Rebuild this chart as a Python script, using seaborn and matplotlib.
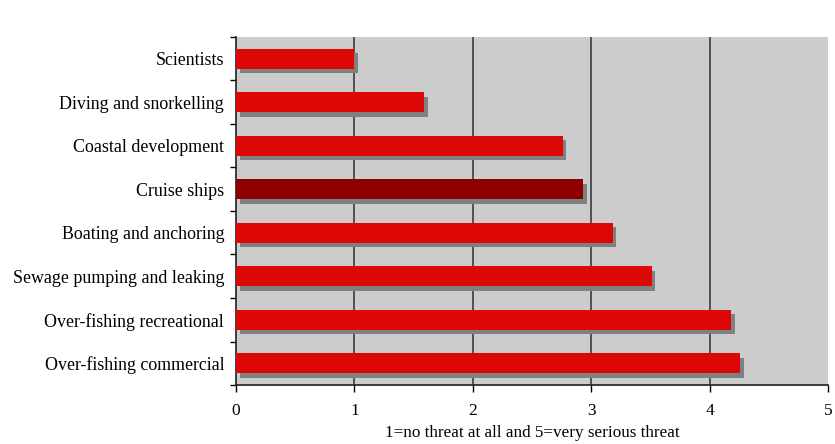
import numpy as np
import pandas as pd
import matplotlib
matplotlib.use("Agg")
import matplotlib.pyplot as plt
import matplotlib.patheffects as pe
import seaborn as sns

# data
threats = ["Scientists", "Diving and snorkelling", "Coastal development", "Cruise ships",
           "Boating and anchoring", "Sewage pumping and leaking",
           "Over-fishing recreational", "Over-fishing commercial"]
scores = [1.00, 1.59, 2.76, 2.93, 3.18, 3.51, 4.18, 4.26]
bar_colors = ["#DD0806", "#DD0806", "#DD0806", "#8E0000",
              "#DD0806", "#DD0806", "#DD0806", "#DD0806"]
x_ticks = [0, 1, 2, 3, 4, 5]

df = pd.DataFrame({"threat": threats, "score": scores})

sns.set_style("white")
plt.rcParams["font.family"] = ["Liberation Serif", "DejaVu Serif"]
plt.rcParams["text.color"] = "black"
plt.rcParams["xtick.color"] = "black"
plt.rcParams["ytick.color"] = "black"
plt.rcParams["axes.labelcolor"] = "black"

fig = plt.figure(figsize=(8.35, 4.44), dpi=100)
ax = fig.add_axes([236 / 835, 59 / 444, 592 / 835, 348 / 444])
ax.set_facecolor("#CCCCCC")

sns.barplot(data=df, x="score", y="threat", hue="threat", palette=bar_colors,
            saturation=1, orient="h", width=0.46, legend=False, ax=ax, zorder=3)

# grey drop shadow like the original spreadsheet chart
for bar in ax.patches:
    bar.set_edgecolor("none")
    bar.set_path_effects([pe.SimplePatchShadow(offset=(2.6, -3.2), shadow_rgbFace="#808080", alpha=1),
                          pe.Normal()])

# vertical gridlines
for v in x_ticks[1:-1]:
    ax.axvline(v, color="#303030", lw=1.1, zorder=1)

ax.set_xlim(0, 5)
ax.set_ylim(len(threats) - 0.5, -0.5)
ax.set_xticks(x_ticks)
ax.set_xticklabels([str(t) for t in x_ticks], fontsize=12.5)
ax.set_xlabel("1=no threat at all and 5=very serious threat", fontsize=12.3, labelpad=4)
ax.set_ylabel("")
ax.tick_params(axis="x", bottom=True, direction="out", length=5, width=1, pad=8)
ax.tick_params(axis="y", which="major", left=True, length=0, labelsize=12.9, pad=8.5)
ax.set_yticks(np.arange(-0.5, len(threats), 1), minor=True)
ax.tick_params(axis="y", which="minor", left=True, direction="out", length=4, width=1)

for s in ["top", "right"]:
    ax.spines[s].set_visible(False)
for s in ["left", "bottom"]:
    ax.spines[s].set_color("#202020")
    ax.spines[s].set_linewidth(1.2)

fig.savefig("out.png", dpi=100)
